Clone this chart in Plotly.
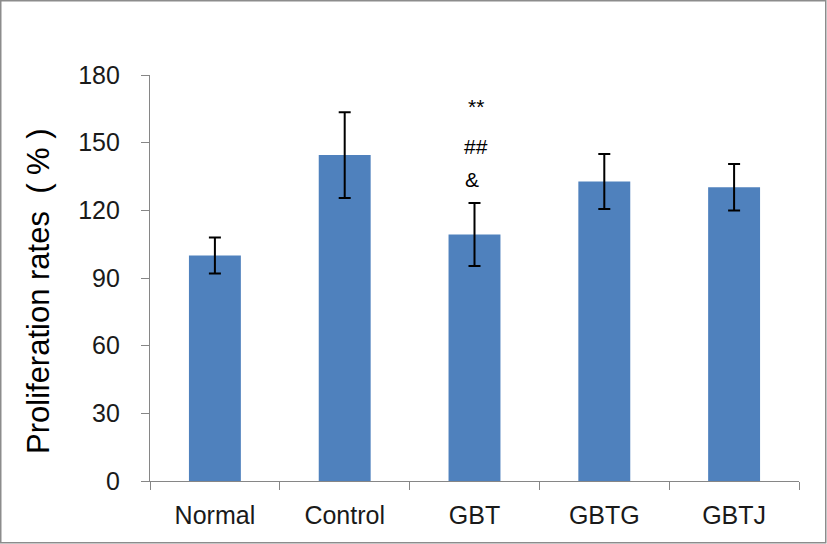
import plotly.graph_objects as go

categories = ["Normal", "Control", "GBT", "GBTG", "GBTJ"]
values = [100.0, 144.5, 109.3, 132.8, 130.2]
errors = [8.0, 19.0, 14.0, 12.2, 10.3]
y_ticks = [0, 30, 60, 90, 120, 150, 180]
marks = ["**", "##", "&"]
mark_y = [166.0, 148.5, 133.5]
y_title = "Proliferation rates  ( % )"

W, H = 827, 544
ml, mr, mt, mb = 150, 28, 75, 63
pw, ph = W - ml - mr, H - mt - mb
FONT = "Liberation Sans, Arial, sans-serif"

fig = go.Figure()
fig.add_trace(go.Bar(
    x=categories, y=values,
    marker=dict(color="#4F81BD", line=dict(width=0)),
    width=0.4,
    error_y=dict(type="data", array=errors, visible=True,
                 color="black", thickness=2, width=6),
))

for m, yy in zip(marks, mark_y):
    fig.add_annotation(x="GBT", y=yy, text=m, showarrow=False,
                       font=dict(family=FONT, size=21, color="black"),
                       xshift=-3 if m == "&" else 1)

# y-axis title placed as rotated text
fig.add_annotation(xref="paper", yref="paper",
                   x=(38.5 - ml) / pw, y=(H - mb - 291.5) / ph,
                   text=y_title, textangle=-90, showarrow=False,
                   font=dict(family=FONT, size=31, color="black"),
                   xanchor="center", yanchor="middle")

fig.add_shape(type="rect", xref="paper", yref="paper",
              x0=-ml / pw + 0.75 / pw, x1=1 + (mr - 1.25) / pw,
              y0=-(mb - 1.25) / ph, y1=1 + (mt - 0.75) / ph,
              line=dict(color="#8c8c8c", width=1.5))

fig.update_layout(
    width=W, height=H,
    margin=dict(l=ml, r=mr, t=mt, b=mb),
    paper_bgcolor="white", plot_bgcolor="white",
    showlegend=False,
    font=dict(family=FONT, color="#1a1a1a"),
    xaxis=dict(
        showline=True, linecolor="#868686", linewidth=1.2,
        ticks="outside", ticklen=8, tickcolor="#868686",
        tickson="boundaries",
        tickfont=dict(size=25, color="#1a1a1a"),
        ticklabelstandoff=12,
        showgrid=False, range=[-0.5, 4.5],
    ),
    yaxis=dict(
        range=[0, 180], tickvals=y_ticks,
        showline=True, linecolor="#868686", linewidth=1.2,
        ticks="outside", ticklen=8, tickcolor="#868686",
        tickfont=dict(size=25, color="#1a1a1a"),
        ticklabelstandoff=16,
        showgrid=False, zeroline=False,
    ),
)

fig.write_html("out.html")
